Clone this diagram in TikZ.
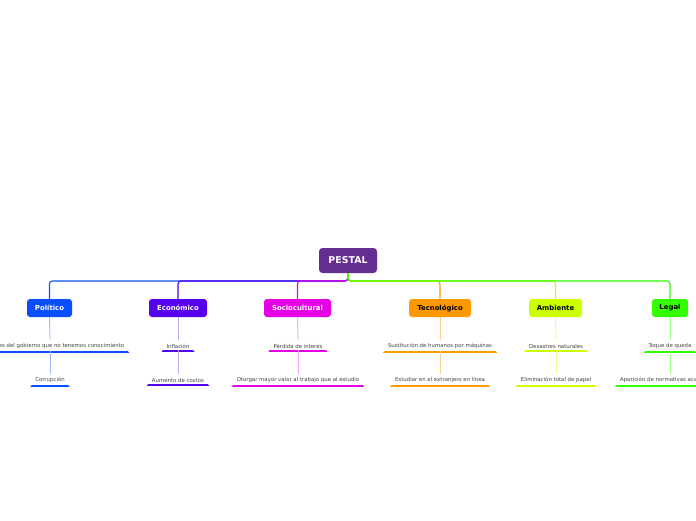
\documentclass[tikz,border=0pt]{standalone}
\usepackage{fontspec}
\setmainfont{DejaVu Sans}
\definecolor{cRoot}{HTML}{662D91}
\definecolor{cPol}{HTML}{0A4FFF}
\definecolor{cEco}{HTML}{5500EE}
\definecolor{cSoc}{HTML}{E600E6}
\definecolor{cTec}{HTML}{FF9900}
\definecolor{cAmb}{HTML}{CCFF00}
\definecolor{cLeg}{HTML}{33FF00}
\definecolor{subtext}{HTML}{444444}
\tikzset{
  rootbox/.style={draw=none, fill=cRoot, text=white, rounded corners=3.5pt,
    font=\bfseries\fontsize{9.4}{11}\selectfont, minimum width=58pt, minimum height=25pt, inner sep=0pt},
  catbox/.style={fill=#1, draw=none, rounded corners=3pt,
    font=\bfseries\fontsize{6.9}{8}\selectfont, minimum height=18pt, inner sep=0pt},
  sub/.style={text=subtext, font=\fontsize{5.4}{6.2}\selectfont, inner xsep=5pt, inner ysep=3.5pt,
    path picture={\draw[#1, line width=3pt, line cap=round]
      ([xshift=1.5pt]path picture bounding box.south west) -- ([xshift=-1.5pt]path picture bounding box.south east);}},
  link/.style={draw=#1, line width=1.1pt, rounded corners=3pt},
  stem/.style={draw=#1, line width=0.9pt},
}
\begin{document}
\begin{tikzpicture}[x=1pt,y=-1pt]
\useasboundingbox (0,0) rectangle (696,520);
\clip (0,0) rectangle (696,520);
\fill[white] (0,0) rectangle (696,520);

\node[rootbox] (root) at (348,260.5) {PESTAL};

\node[catbox=cPol, text=white, minimum width=45pt] (pol) at (49.5,308) {Político};
\node[catbox=cEco, text=white, minimum width=58pt] (eco) at (178,308) {Económico};
\node[catbox=cSoc, text=white, minimum width=67pt] (soc) at (297.5,308) {Sociocultural};
\node[catbox=cTec, text=black, minimum width=62pt] (tec) at (440,308) {Tecnológico};
\node[catbox=cAmb, text=black, minimum width=53pt] (amb) at (555.5,308) {Ambiente};
\node[catbox=cLeg, text=black, minimum width=36pt] (leg) at (670,308) {Legal};

\coordinate (hub) at (348,281);
\foreach \n/\c in {pol/cPol, eco/cEco, soc/cSoc, tec/cTec, amb/cAmb, leg/cLeg}{
  \draw[link=\c] (root.south) -- (hub) -| (\n.north);
}

% sub items
\node[sub=cPol] (pol1) at (50,346) {Decisiones del gobierno que no tenemos conocimiento};
\node[sub=cPol] (pol2) at (50,380) {Corrupción};
\node[sub=cEco] (eco1) at (178,346) {Inflación};
\node[sub=cEco] (eco2) at (178,380) {Aumento de costos};
\node[sub=cSoc] (soc1) at (298,346) {Pérdida de interés};
\node[sub=cSoc] (soc2) at (298,380) {Otorgar mayor valor al trabajo que al estudio};
\node[sub=cTec] (tec1) at (440,346) {Sustitución de humanos por máquinas};
\node[sub=cTec] (tec2) at (440,380) {Estudiar en el extranjero en línea};
\node[sub=cAmb] (amb1) at (556,346) {Desastres naturales};
\node[sub=cAmb] (amb2) at (556,380) {Eliminación total de papel};
\node[sub=cLeg] (leg1) at (670,346) {Toque de queda};
\node[sub=cLeg] (leg2) at (670,380) {Aparición de normativas académicas};

\foreach \n/\c in {pol/cPol!40, eco/cEco!35, soc/cSoc!35, tec/cTec!45, amb/cAmb!45, leg/cLeg!45}{
  \draw[stem=\c] (\n.south) -- (\n1.north);
  \draw[stem=\c] ([yshift=1.5pt]\n1.south) -- (\n2.north);
}
\end{tikzpicture}
\end{document}
